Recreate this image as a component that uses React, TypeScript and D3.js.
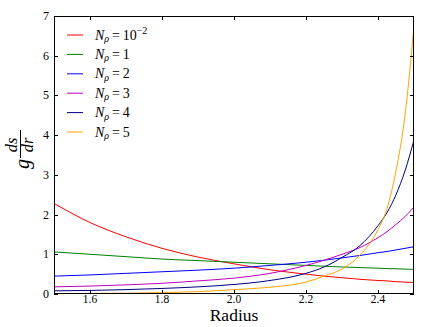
import React from "react";
import * as d3 from "d3";

const radius = [1.5, 1.6, 1.7, 1.8, 1.9, 2.0, 2.1, 2.2, 2.25, 2.3, 2.35, 2.4, 2.425, 2.45, 2.475, 2.5];
const seriesLabels = ["10", "1", "2", "3", "4", "5"];
const seriesColors = ["#ff0000", "#008000", "#0000ff", "#bf00bf", "#000080", "#ffa500"];
const nRho001 = [2.28, 1.8, 1.44, 1.15, 0.93, 0.76, 0.61, 0.5, 0.45, 0.41, 0.37, 0.34, 0.33, 0.31, 0.3, 0.29];
const nRho1 = [1.06, 1.0, 0.94, 0.88, 0.84, 0.8, 0.76, 0.72, 0.7, 0.68, 0.665, 0.65, 0.64, 0.635, 0.627, 0.62];
const nRho2 = [0.45, 0.48, 0.52, 0.56, 0.6, 0.65, 0.72, 0.8, 0.85, 0.91, 0.97, 1.04, 1.07, 1.11, 1.15, 1.19];
const nRho3 = [0.18, 0.2, 0.23, 0.27, 0.33, 0.4, 0.52, 0.72, 0.85, 1.0, 1.17, 1.42, 1.57, 1.75, 1.95, 2.19];
const nRho4 = [0.08, 0.09, 0.11, 0.14, 0.18, 0.24, 0.34, 0.52, 0.68, 0.92, 1.22, 1.72, 2.05, 2.5, 3.1, 3.88];
const nRho5 = [0.01, 0.015, 0.02, 0.035, 0.06, 0.11, 0.17, 0.3, 0.45, 0.63, 0.98, 1.62, 2.15, 3.1, 4.5, 6.75];
const xTicks = [1.6, 1.8, 2.0, 2.2, 2.4];
const yTicks = [0, 1, 2, 3, 4, 5, 6, 7];

const allSeries = [nRho001, nRho1, nRho2, nRho3, nRho4, nRho5];

const W = 436, H = 327;
const L = 54, R = 414, T = 16, B = 294;
const FONT = "'Liberation Serif', 'DejaVu Serif', serif";

export default function App() {
  const x = d3.scaleLinear().domain([1.5, 2.5]).range([L, R]);
  const y = d3.scaleLinear().domain([0, 7]).range([B, T]);
  const line = d3
    .line<number>()
    .x((_, i) => x(radius[i]))
    .y((v) => y(v))
    .curve(d3.curveMonotoneX);

  return (
    <svg width={W} height={H} style={{ position: "absolute", left: 0, top: 0, background: "#fff" }}>
      <defs>
        <clipPath id="plotclip">
          <rect x={L} y={T} width={R - L} height={B - T} />
        </clipPath>
      </defs>
      <g clipPath="url(#plotclip)">
        {allSeries.map((s, i) => (
          <path key={i} d={line(s) || ""} fill="none" stroke={seriesColors[i]} strokeWidth={1} />
        ))}
      </g>
      {/* frame */}
      <rect x={L + 0.5} y={T + 0.5} width={R - L - 1} height={B - T - 1} fill="none" stroke="#000" strokeWidth={1} />
      {/* x ticks */}
      {xTicks.map((t) => (
        <g key={"x" + t}>
          <line x1={Math.round(x(t)) + 0.5} x2={Math.round(x(t)) + 0.5} y1={B} y2={B - 4} stroke="#000" />
          <line x1={Math.round(x(t)) + 0.5} x2={Math.round(x(t)) + 0.5} y1={T} y2={T + 4} stroke="#000" />
          <text x={x(t)} y={303} textAnchor="middle" fontFamily={FONT} fontSize={11.5} fill="#000">
            {t.toFixed(1)}
          </text>
        </g>
      ))}
      {/* y ticks */}
      {yTicks.map((t) => (
        <g key={"y" + t}>
          <line x1={L} x2={L + 4} y1={Math.round(y(t)) + 0.5} y2={Math.round(y(t)) + 0.5} stroke="#000" />
          <line x1={R} x2={R - 4} y1={Math.round(y(t)) + 0.5} y2={Math.round(y(t)) + 0.5} stroke="#000" />
          <text x={49} y={y(t) + 4} textAnchor="end" fontFamily={FONT} fontSize={12} fill="#000">
            {t}
          </text>
        </g>
      ))}
      {/* x label */}
      <text x={(L + R) / 2} y={321} textAnchor="middle" fontFamily={FONT} fontSize={17.5} fill="#000">
        Radius
      </text>
      {/* y label: g ds/dr */}
      <g transform="translate(20,150) rotate(-90)" fontFamily={FONT} fill="#000" fontStyle="italic">
        <text x={-14} y={9} textAnchor="middle" fontSize={20}>g</text>
        <line x1={-8} x2={20} y1={0.5} y2={0.5} stroke="#000" strokeWidth={1} />
        <text x={5} y={-3.5} textAnchor="middle" fontSize={16.5}>ds</text>
        <text x={5} y={12.5} textAnchor="middle" fontSize={16.5}>dr</text>
      </g>
      {/* legend */}
      {seriesLabels.map((lab, i) => {
        const ly = 35 + i * 19.4;
        return (
          <g key={"lg" + i}>
            <line x1={67} x2={83} y1={ly} y2={ly} stroke={seriesColors[i]} strokeWidth={1} />
            <text x={95} y={ly + 4.5} fontFamily={FONT} fontSize={14} fill="#000">
              <tspan fontStyle="italic">N</tspan>
              <tspan fontStyle="italic" fontSize={10} dy={2.5}>ρ</tspan>
              <tspan dy={-2.5}>{"\u2009=\u2009" + lab}</tspan>
              {i === 0 ? (
                <tspan fontSize={10} dy={-5.5}>−2</tspan>
              ) : null}
            </text>
          </g>
        );
      })}
    </svg>
  );
}
